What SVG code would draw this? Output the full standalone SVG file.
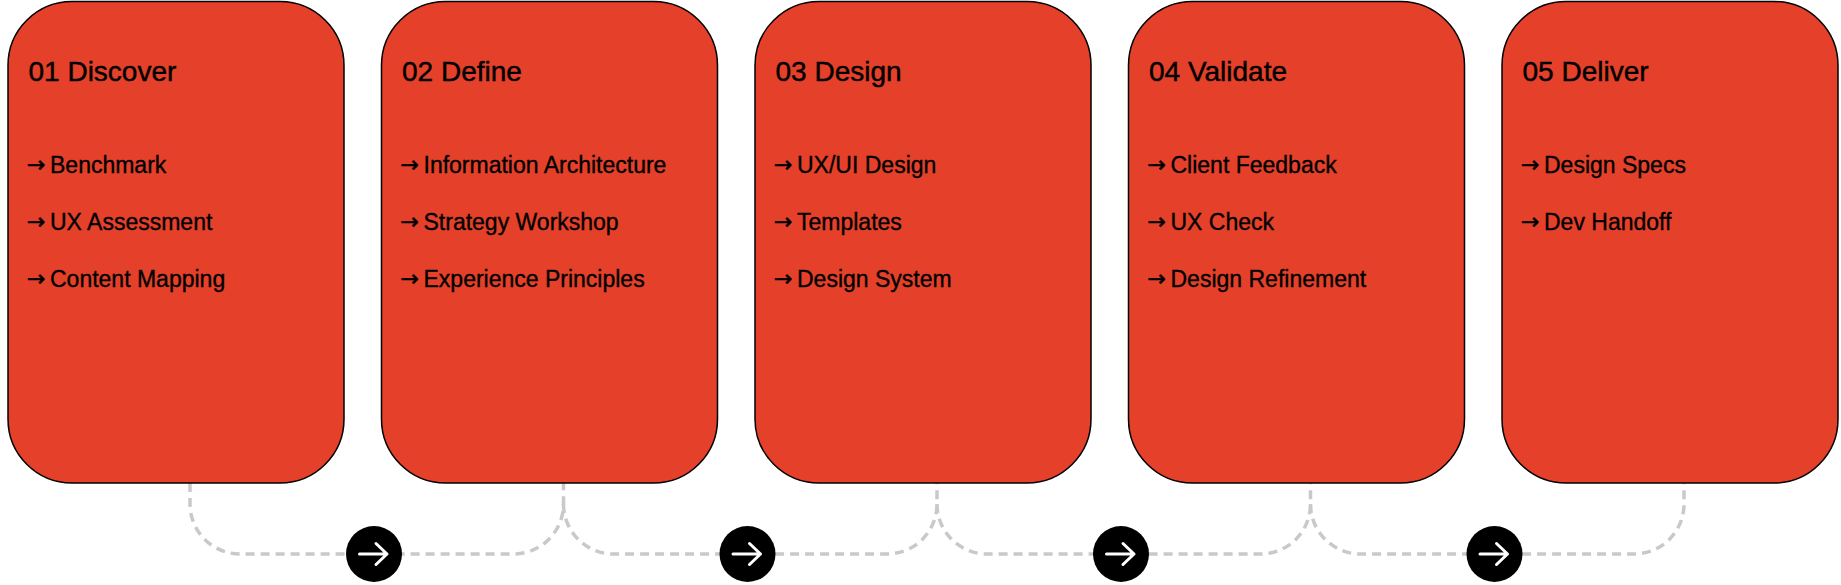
<svg xmlns="http://www.w3.org/2000/svg" width="1841" height="585" viewBox="0 0 1841 585">
<defs>
<style>
.box{fill:#E5402A;stroke:#000;stroke-width:1.5}
.title{font-family:"Liberation Sans",Arial,sans-serif;font-size:28px;fill:#000;stroke:#000;stroke-width:0.45}
.item{font-family:"Liberation Sans",Arial,sans-serif;font-size:23px;fill:#000;stroke:#000;stroke-width:0.35}
.arr{font-family:"DejaVu Sans",sans-serif;font-size:22px;stroke-width:0.6}
.conn{fill:none;stroke:#C9C9C9;stroke-width:3.5;stroke-dasharray:9 6}
.dot{fill:#000}
.darr{fill:none;stroke:#fff;stroke-width:3;stroke-linecap:round;stroke-linejoin:round}
</style>
</defs>
<rect width="1841" height="585" fill="#fff"/>
<g id="connectors">
<path class="conn" d="M190 483 V504 A50 50 0 0 0 240 554 H513.5 A50 50 0 0 0 563.5 504 V483"/>
<path class="conn" d="M563.5 504 A50 50 0 0 0 613.5 554 H887 A50 50 0 0 0 937 504 V483"/>
<path class="conn" d="M937 504 A50 50 0 0 0 987 554 H1260.5 A50 50 0 0 0 1310.5 504 V483"/>
<path class="conn" d="M1310.5 504 A50 50 0 0 0 1360.5 554 H1634 A50 50 0 0 0 1684 504 V483"/>
<g id="step-arrow-1"><circle class="dot" cx="374" cy="554" r="28"/><path class="darr" d="M359.5 554 H387 M376 543.5 L387 554 L376 564.5"/></g>
<g id="step-arrow-2"><circle class="dot" cx="747.5" cy="554" r="28"/><path class="darr" d="M733 554 H760.5 M749.5 543.5 L760.5 554 L749.5 564.5"/></g>
<g id="step-arrow-3"><circle class="dot" cx="1121" cy="554" r="28"/><path class="darr" d="M1106.5 554 H1134 M1123 543.5 L1134 554 L1123 564.5"/></g>
<g id="step-arrow-4"><circle class="dot" cx="1494.5" cy="554" r="28"/><path class="darr" d="M1480 554 H1507.5 M1496.5 543.5 L1507.5 554 L1496.5 564.5"/></g>
</g>
<g id="discover">
<rect class="box" x="8" y="1.5" width="336" height="481.5" rx="64"/>
<text class="title" x="28.5" y="81">01 Discover</text>
<text class="item" x="27" y="173"><tspan class="arr" dy="-1">→</tspan><tspan x="50" dy="1">Benchmark</tspan></text>
<text class="item" x="27" y="230"><tspan class="arr" dy="-1">→</tspan><tspan x="50" dy="1">UX Assessment</tspan></text>
<text class="item" x="27" y="287"><tspan class="arr" dy="-1">→</tspan><tspan x="50" dy="1">Content Mapping</tspan></text>
</g>
<g id="define">
<rect class="box" x="381.5" y="1.5" width="336" height="481.5" rx="64"/>
<text class="title" x="402" y="81">02 Define</text>
<text class="item" x="400.5" y="173"><tspan class="arr" dy="-1">→</tspan><tspan x="423.5" dy="1">Information Architecture</tspan></text>
<text class="item" x="400.5" y="230"><tspan class="arr" dy="-1">→</tspan><tspan x="423.5" dy="1">Strategy Workshop</tspan></text>
<text class="item" x="400.5" y="287"><tspan class="arr" dy="-1">→</tspan><tspan x="423.5" dy="1">Experience Principles</tspan></text>
</g>
<g id="design">
<rect class="box" x="755" y="1.5" width="336" height="481.5" rx="64"/>
<text class="title" x="775.5" y="81">03 Design</text>
<text class="item" x="774" y="173"><tspan class="arr" dy="-1">→</tspan><tspan x="797" dy="1">UX/UI Design</tspan></text>
<text class="item" x="774" y="230"><tspan class="arr" dy="-1">→</tspan><tspan x="797" dy="1">Templates</tspan></text>
<text class="item" x="774" y="287"><tspan class="arr" dy="-1">→</tspan><tspan x="797" dy="1">Design System</tspan></text>
</g>
<g id="validate">
<rect class="box" x="1128.5" y="1.5" width="336" height="481.5" rx="64"/>
<text class="title" x="1149" y="81">04 Validate</text>
<text class="item" x="1147.5" y="173"><tspan class="arr" dy="-1">→</tspan><tspan x="1170.5" dy="1">Client Feedback</tspan></text>
<text class="item" x="1147.5" y="230"><tspan class="arr" dy="-1">→</tspan><tspan x="1170.5" dy="1">UX Check</tspan></text>
<text class="item" x="1147.5" y="287"><tspan class="arr" dy="-1">→</tspan><tspan x="1170.5" dy="1">Design Refinement</tspan></text>
</g>
<g id="deliver">
<rect class="box" x="1502" y="1.5" width="336" height="481.5" rx="64"/>
<text class="title" x="1522.5" y="81">05 Deliver</text>
<text class="item" x="1521" y="173"><tspan class="arr" dy="-1">→</tspan><tspan x="1544" dy="1">Design Specs</tspan></text>
<text class="item" x="1521" y="230"><tspan class="arr" dy="-1">→</tspan><tspan x="1544" dy="1">Dev Handoff</tspan></text>
</g>
</svg>
